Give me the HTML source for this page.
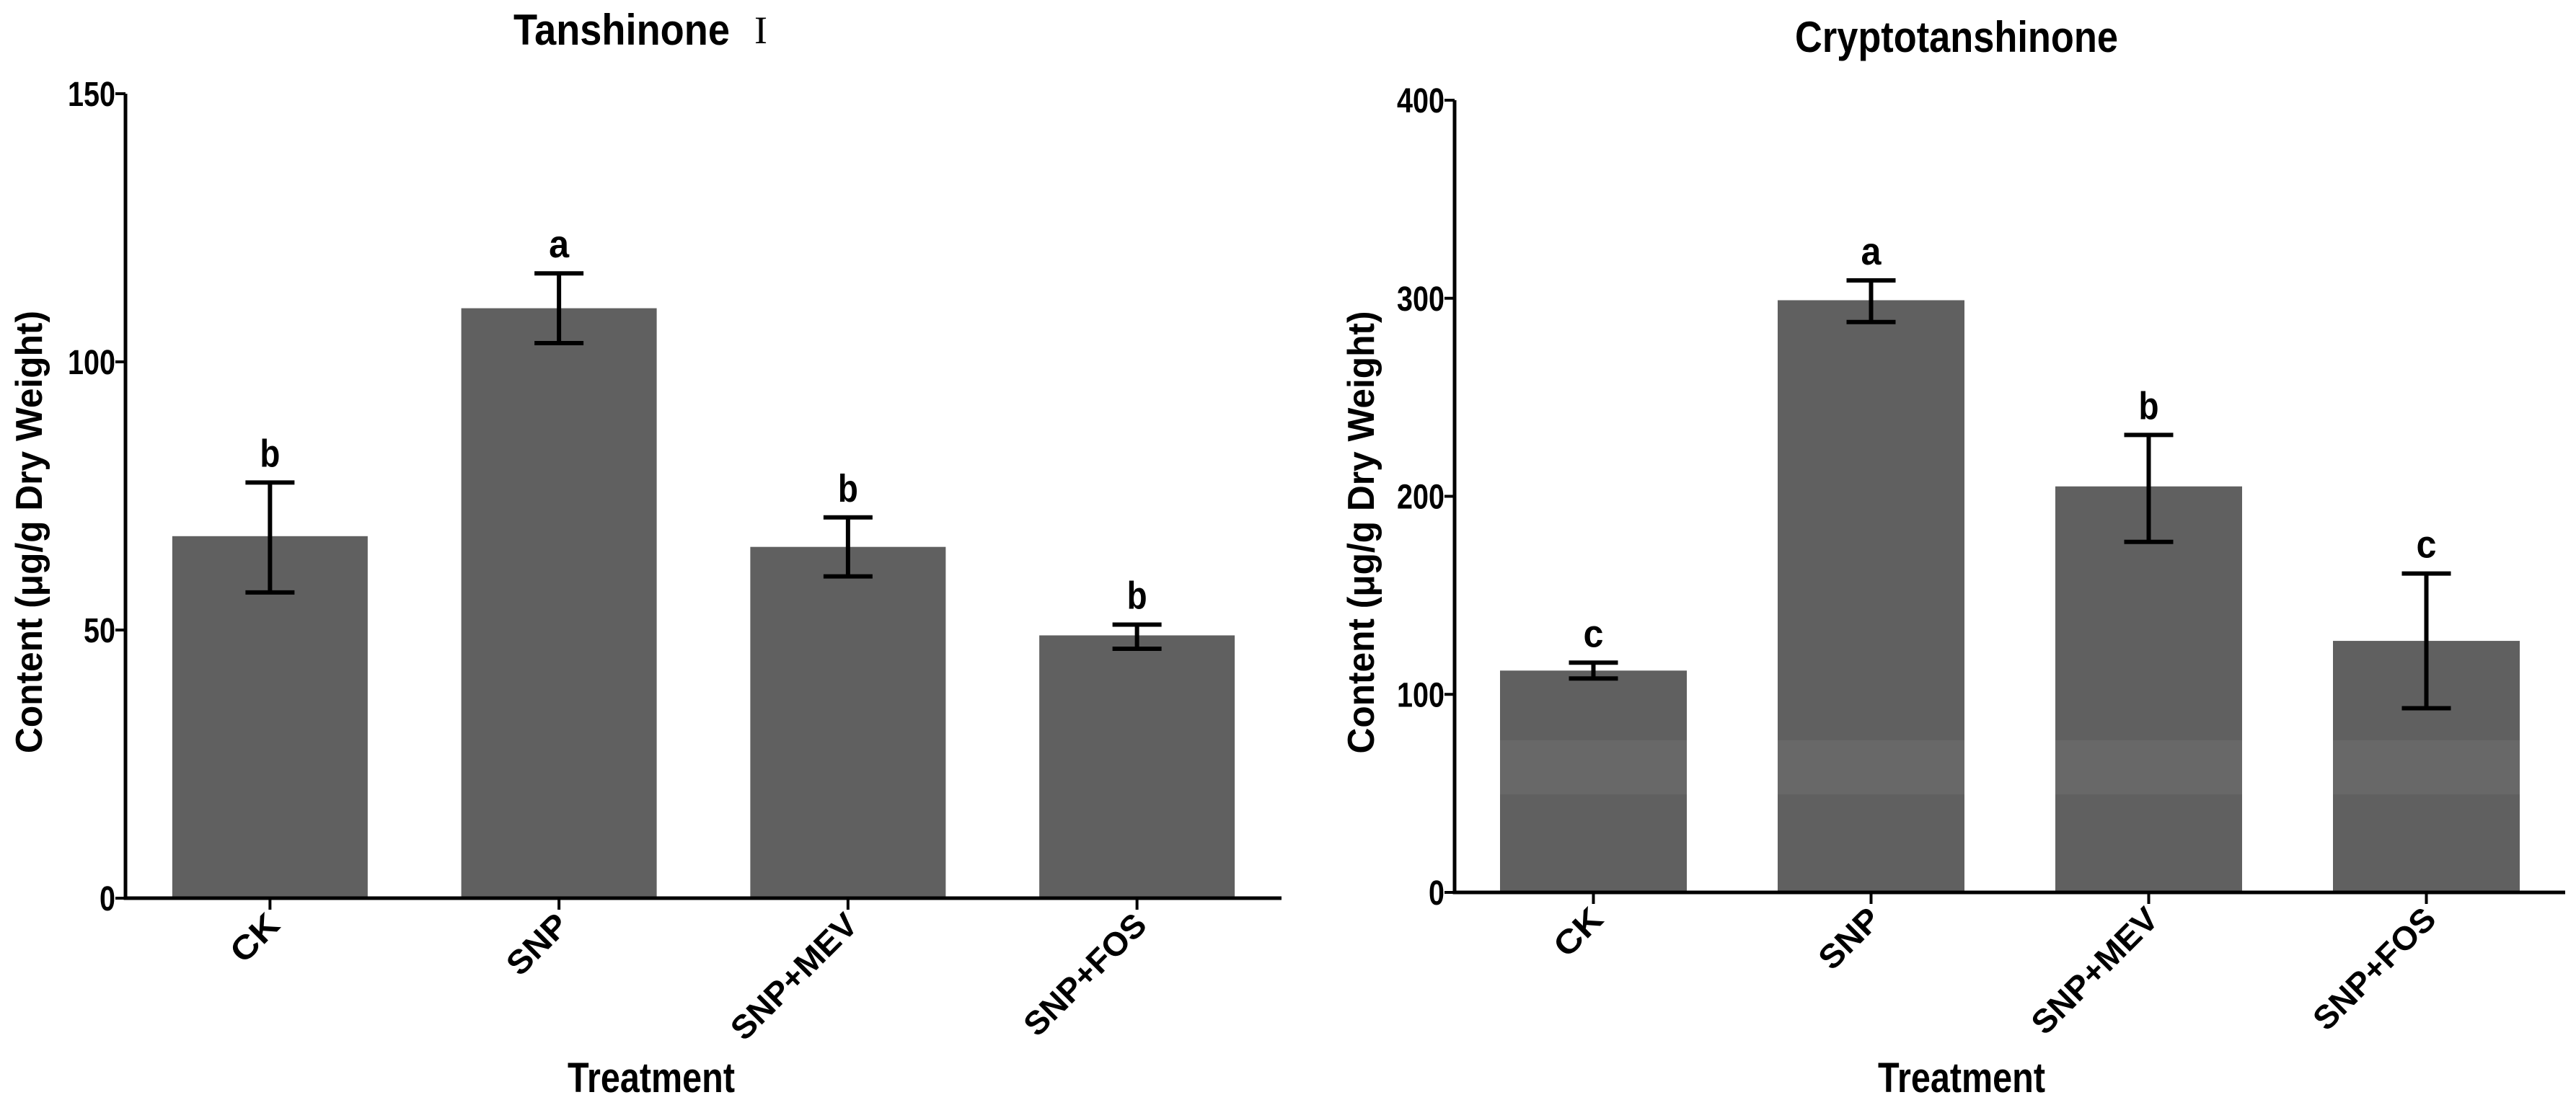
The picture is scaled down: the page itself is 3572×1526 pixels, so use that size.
<!DOCTYPE html>
<html><head><meta charset="utf-8"><style>
html,body{margin:0;padding:0;background:#fff}
svg{display:block}
text{font-family:"Liberation Sans Narrow","Liberation Sans",sans-serif;font-weight:bold;fill:#000}
.wide{font-family:"Liberation Sans",sans-serif}
</style></head><body>
<svg id="chart" width="3572" height="1526" viewBox="0 0 3572 1526" xmlns="http://www.w3.org/2000/svg"></svg>
<script>
const categories = ["CK","SNP","SNP+MEV","SNP+FOS"];
const tanValues = [67.5,110,65.5,49];
const tanLow = [57,103.5,60,46.5];
const tanHigh = [77.5,116.5,71,51];
const tanLetters = ["b","a","b","b"];
const tanTicks = [0,50,100,150];
const cryValues = [112,299,205,127];
const cryLow = [108,288,177,93];
const cryHigh = [116,309,231,161];
const cryLetters = ["c","a","b","c"];
const cryTicks = [0,100,200,300,400];

const labelLen = [74,99,226,218];

const svg = document.getElementById('chart');
const NS = 'http://www.w3.org/2000/svg';
function mk(tag, attrs, parent){
  const e = document.createElementNS(NS, tag);
  for (const k in attrs) e.setAttribute(k, attrs[k]);
  (parent||svg).appendChild(e);
  return e;
}

function drawChart(cfg){
  const g = mk('g', {});
  
  
  const yS = v => cfg.y0 - (v/cfg.max)*(cfg.y0-cfg.yTop);
  const step = (cfg.xEnd - cfg.x0)/categories.length;
  const xC = i => cfg.x0 + step*(i+0.5);

  categories.forEach((c,i)=>{
    const top = yS(cfg.values[i]);
    const b = mk('rect', {x:xC(i)-cfg.bw/2, y:top, width:cfg.bw, height:cfg.y0-top, fill:'#606060'}, g);
    
    
    if (cfg.band) {
      const bt = Math.max(top, cfg.band[0]);
      if (bt < cfg.band[1]) {
        const bd = mk('rect', {x:xC(i)-cfg.bw/2, y:bt, width:cfg.bw, height:cfg.band[1]-bt, fill:'#686868'}, g);
        
        
      }
    }
    const eg = mk('g', {stroke:'#000','stroke-width':6,fill:'none'}, g);
    
    
    const yl = yS(cfg.low[i]), yh = yS(cfg.high[i]);
    mk('line', {x1:xC(i), x2:xC(i), y1:yl, y2:yh}, eg);
    mk('line', {x1:xC(i)-34, x2:xC(i)+34, y1:yl, y2:yl}, eg);
    mk('line', {x1:xC(i)-34, x2:xC(i)+34, y1:yh, y2:yh}, eg);
    const lt = mk('text', {x:xC(i), y:yh-22, 'font-size':54, 'text-anchor':'middle', textLength:28, lengthAdjust:'spacingAndGlyphs'}, g);
    lt.textContent = cfg.letters[i];
    
    
    mk('line', {x1:xC(i), x2:xC(i), y1:cfg.y0, y2:cfg.y0+16, stroke:'#000','stroke-width':4}, g);
    const tl = mk('text', {x:0, y:0, 'font-size':46, 'text-anchor':'end', class:'wide', textLength:labelLen[i], lengthAdjust:'spacingAndGlyphs',
      transform:`translate(${xC(i)+16},${cfg.y0+40}) rotate(-45)`}, g);
    tl.textContent = c;
    
    
  });
  const ax = mk('path', {d:`M${cfg.x0},${cfg.yTop} V${cfg.y0} H${cfg.xEnd}`, stroke:'#000','stroke-width':5,fill:'none'}, g);
  
  
  cfg.ticks.forEach(t=>{
    mk('line', {x1:cfg.x0-14, x2:cfg.x0, y1:yS(t), y2:yS(t), stroke:'#000','stroke-width':4}, g);
    const s = String(t);
    const tt = mk('text', {x:cfg.x0-14, y:yS(t)+17, 'font-size':48, 'text-anchor':'end', textLength:22*s.length, lengthAdjust:'spacingAndGlyphs'}, g);
    tt.textContent = s;
    
    
  });
  const ti = mk('text', {x:cfg.titleX, y:cfg.titleY, 'font-size':60, 'text-anchor':'start', textLength:cfg.titleLen, lengthAdjust:'spacingAndGlyphs'}, g);
  ti.textContent = cfg.title;
  
  
  if (cfg.numeral) {
    const nu = mk('text', {x:cfg.numeral, y:cfg.titleY-2, 'font-size':54, style:'font-family:"Liberation Serif",serif;font-weight:normal'}, g);
    nu.textContent = 'I';
    
    
  }
  const yl = mk('text', {x:0, y:0, 'font-size':52, 'text-anchor':'middle', class:'wide', textLength:614, lengthAdjust:'spacingAndGlyphs',
    transform:`translate(${cfg.ylabX},${(cfg.yTop+cfg.y0)/2 + 50}) rotate(-90)`}, g);
  yl.textContent = 'Content (μg/g Dry Weight)';
  
  
  const xl = mk('text', {x:cfg.xlabX, y:1515, 'font-size':58, 'text-anchor':'start', textLength:232, lengthAdjust:'spacingAndGlyphs'}, g);
  xl.textContent = 'Treatment';
  
  
}

drawChart({name:'tanshinone-chart', x0:174, xEnd:1777, yTop:130, y0:1246, max:150, bw:271,
  values:tanValues, low:tanLow, high:tanHigh, letters:tanLetters, ticks:tanTicks,
  title:'Tanshinone', titleX:712, titleLen:300, titleY:62, numeral:1046, ylabX:58, xlabX:787});
drawChart({name:'cryptotanshinone-chart', x0:2017, xEnd:3557, yTop:139, y0:1238, max:400, bw:259,
  values:cryValues, low:cryLow, high:cryHigh, letters:cryLetters, ticks:cryTicks,
  title:'Cryptotanshinone', titleX:2489, titleLen:448, titleY:72, ylabX:1905, xlabX:2604, band:[1027,1102]});
</script>
</body></html>
